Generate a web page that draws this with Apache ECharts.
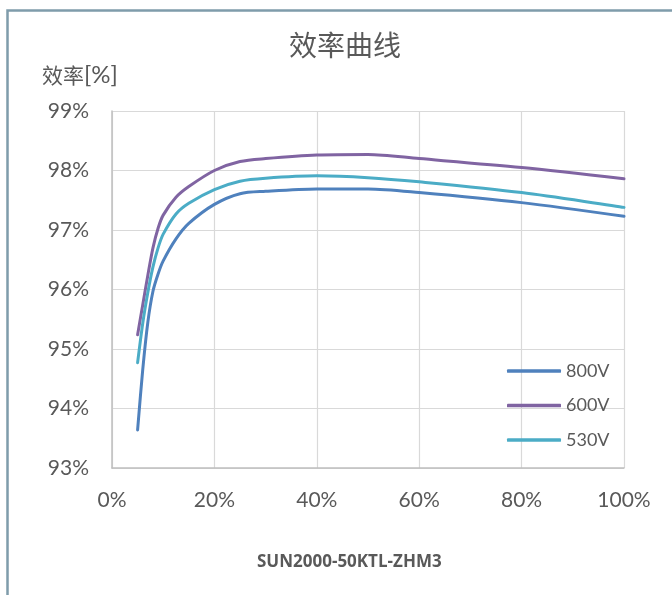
<!DOCTYPE html>
<html><head><meta charset="utf-8">
<script src="https://cdn.jsdelivr.net/npm/echarts@6/dist/echarts.min.js"></script>
<style>html,body{margin:0;padding:0;background:#fff}#c{width:672px;height:595px}</style>
</head><body><div id="c"></div>
<script>
const xTicks = [0, 20, 40, 60, 80, 100];
const yTicks = [93, 94, 95, 96, 97, 98, 99];
const load800 = [5, 6, 7, 8, 9, 10, 12.5, 15, 20, 25, 30, 40, 50, 60, 80, 100];
const eff800 = [93.64, 94.65, 95.45, 95.97, 96.26, 96.48, 96.85, 97.11, 97.43, 97.61, 97.65, 97.69, 97.69, 97.63, 97.46, 97.23];
const load600 = [5, 6, 7, 8, 9, 10, 12.5, 15, 20, 25, 30, 40, 50, 60, 80, 100];
const eff600 = [95.24, 95.74, 96.24, 96.7, 97.03, 97.25, 97.55, 97.73, 98.0, 98.15, 98.2, 98.26, 98.27, 98.2, 98.05, 97.86];
const load530 = [5, 6, 7, 8, 9, 10, 12.5, 15, 20, 25, 30, 40, 50, 60, 80, 100];
const eff530 = [94.77, 95.43, 95.95, 96.38, 96.7, 96.93, 97.27, 97.45, 97.68, 97.82, 97.87, 97.91, 97.88, 97.81, 97.63, 97.38];
const seriesNames = ['800V', '600V', '530V'];
const colors = ['#4f81bd', '#8064a2', '#4bacc6'];

const chart = echarts.init(document.getElementById('c'));
const pairs = (xs, ys) => xs.map((x, i) => [x, ys[i]]);
const mk = (name, data, color) => ({
  name, type: 'line', data, smooth: 0.3, showSymbol: false, symbol: 'none',
  lineStyle: { width: 3, color, cap: 'round' }, itemStyle: { color }
});
const labelFont = { fontFamily: 'Lato', fontSize: 21, color: '#595959' };
chart.setOption({
  animation: false,
  title: [
    { text: '效率曲线', left: 284, top: 26, textStyle: { fontFamily: 'Noto Sans CJK SC', fontSize: 28, fontWeight: 'normal', color: '#595959' } },
    { text: '{a|效率}{b|[%]}', left: 37, top: 58, textStyle: { fontWeight: 'normal', rich: {
        a: { fontFamily: 'Noto Sans CJK SC', fontSize: 21, fontWeight: 'normal', color: '#595959' },
        b: { fontFamily: 'Lato', fontSize: 24, fontWeight: 'normal', color: '#595959' } } } },
    { text: 'SUN2000-50KTL-ZHM3', left: 252, top: 549, textStyle: { fontFamily: 'Open Sans', fontSize: 17, fontWeight: 'bold', color: '#595959' } }
  ],
  graphic: [
    { type: 'polyline', shape: { points: [[7.5, 595], [7.5, 10.5], [672, 10.5]] }, style: { stroke: '#7f9cab', lineWidth: 2.5, fill: null } }
  ],
  legend: {
    orient: 'vertical', left: 502, top: 357, itemGap: 16.5, itemWidth: 54, itemHeight: 3.5,
    icon: 'roundRect', data: seriesNames,
    textStyle: { fontFamily: 'Lato', fontSize: 18, color: '#595959' }
  },
  grid: { left: 112, right: 48, top: 111, bottom: 127 },
  xAxis: {
    type: 'value', min: xTicks[0], max: xTicks[xTicks.length - 1], interval: 20,
    axisLine: { show: true, lineStyle: { color: '#bfbfbf', width: 1.5 } },
    axisTick: { show: false },
    axisLabel: Object.assign({ margin: 22, formatter: '{value}%' }, labelFont),
    splitLine: { show: true, lineStyle: { color: '#d9d9d9', width: 1.2 } }
  },
  yAxis: {
    type: 'value', min: yTicks[0], max: yTicks[yTicks.length - 1], interval: 1,
    axisLine: { show: true, lineStyle: { color: '#bfbfbf', width: 1.5 } },
    axisTick: { show: false },
    axisLabel: Object.assign({ margin: 23, formatter: '{value}%' }, labelFont),
    splitLine: { show: true, lineStyle: { color: '#d9d9d9', width: 1.2 } }
  },
  series: [
    mk(seriesNames[0], pairs(load800, eff800), colors[0]),
    mk(seriesNames[1], pairs(load600, eff600), colors[1]),
    mk(seriesNames[2], pairs(load530, eff530), colors[2])
  ]
});
</script></body></html>
